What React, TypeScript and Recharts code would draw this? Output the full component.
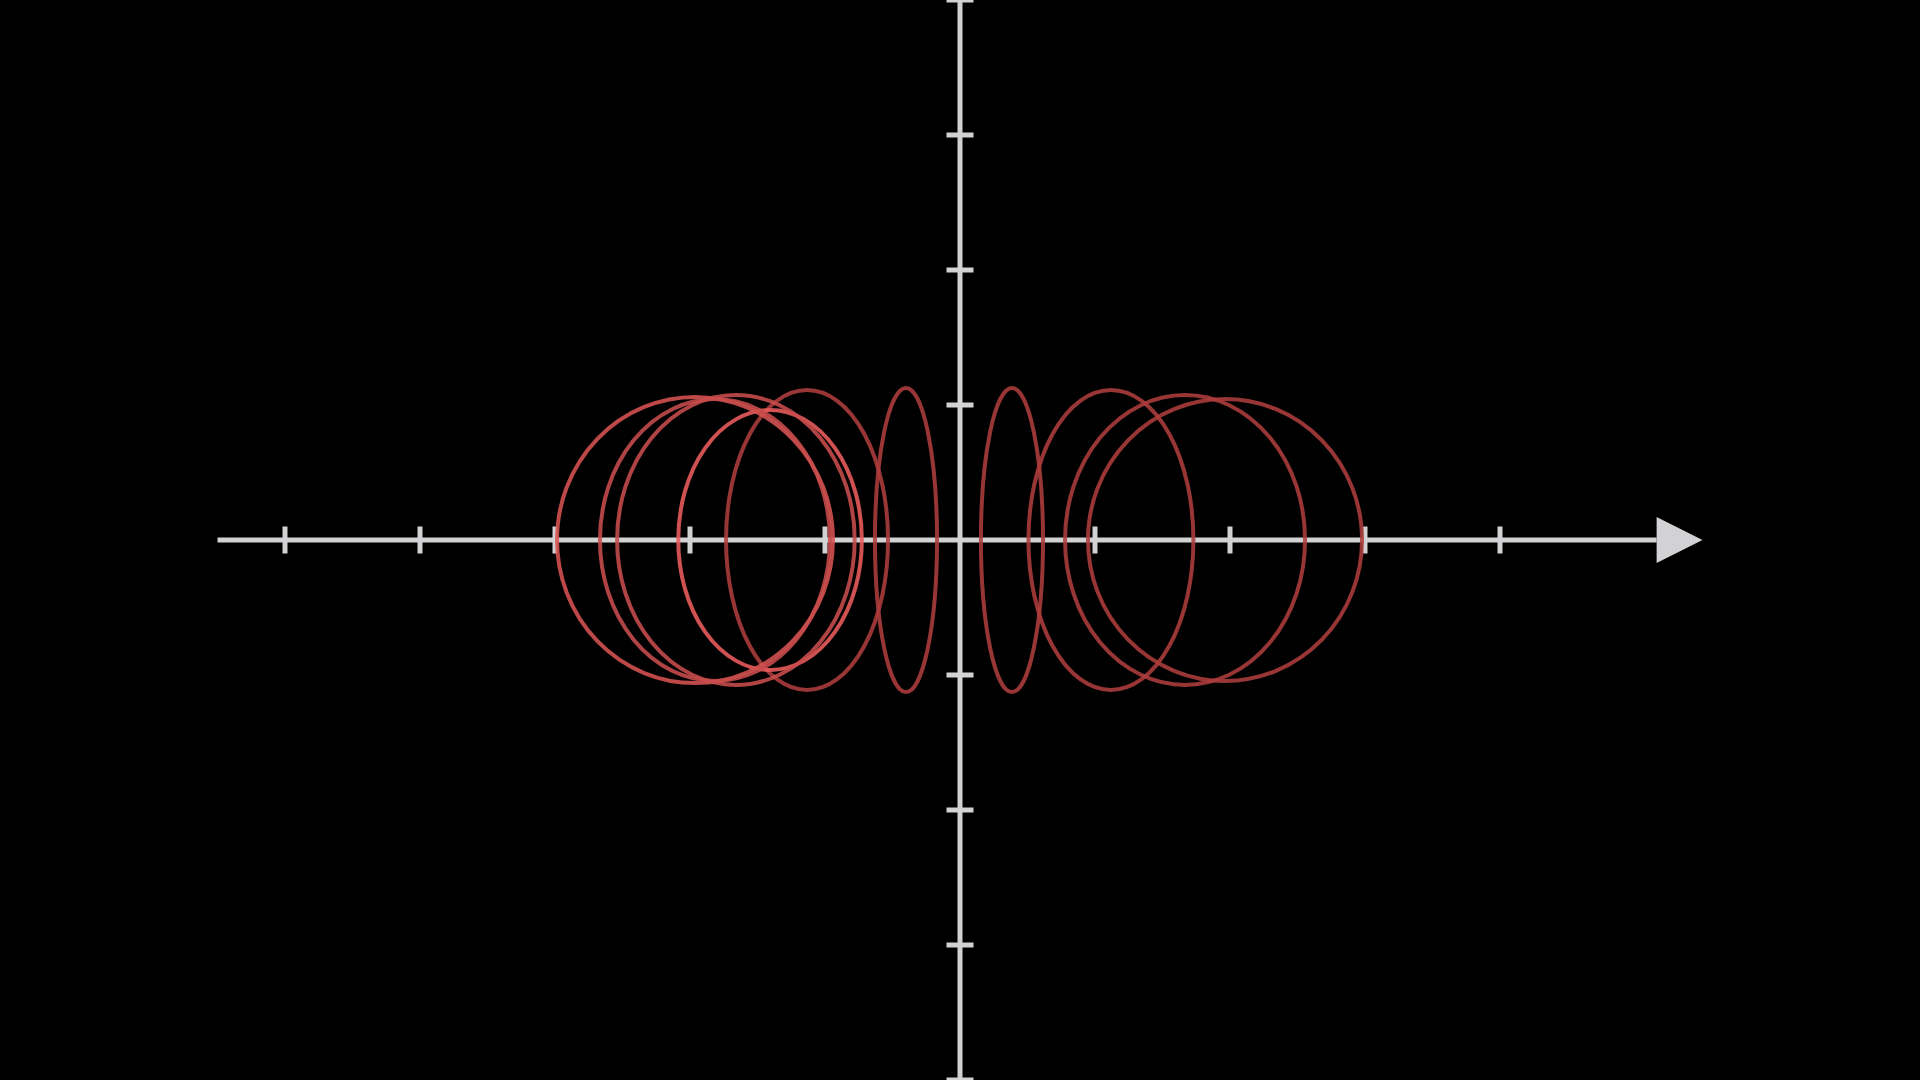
import React from 'react';
import {
  ScatterChart,
  Scatter,
  XAxis,
  YAxis,
  ReferenceLine,
  ReferenceDot,
} from 'recharts';

// plot units: one tick = 135px, origin in the middle of the frame
const WIDTH = 1920;
const HEIGHT = 1080;
const UNIT = 135;
const X_HALF = WIDTH / 2 / UNIT;
const Y_HALF = HEIGHT / 2 / UNIT;

const X_TICKS = [-5, -4, -3, -2, -1, 1, 2, 3, 4];
const Y_TICKS = [-4, -3, -2, -1, 1, 2, 3, 4];
const AXIS_START = -5.5;
const ARROW_BASE = 5.16;
const ARROW_TIP = 5.5;

// rings seen edge-on-ish: centre on the x axis, half-width, half-height
const RING_X = [0.385, 1.118, 1.667, 1.963, -0.4, -1.133, -1.407, -1.963, -1.815, -1.66];
const RING_RX = [0.23, 0.611, 0.889, 1.015, 0.23, 0.6, 0.68, 1.022, 0.852, 0.88];
const RING_RY = [1.126, 1.111, 1.074, 1.044, 1.126, 1.111, 0.963, 1.06, 1.044, 1.074];

const rings = RING_X.map((x, i) => ({ x, y: 0, rx: RING_RX[i], ry: RING_RY[i], idx: i }));

const RING_COLORS = ['#ad3c3c', '#ad3c3c', '#ad3c3c', '#ad3c3c', '#ad3c3c', '#ad3c3c', '#ec5c5c', '#d65252', '#c84c4c', '#c84c4c'];
const AXIS_COLOR = '#d2d2d4';

const renderRing = (props: any) => {
  const { cx, cy, payload } = props;
  return (
    <ellipse
      cx={cx}
      cy={cy}
      rx={payload.rx * UNIT}
      ry={payload.ry * UNIT}
      fill="none"
      stroke={RING_COLORS[payload.idx]}
      strokeWidth={4}
      strokeOpacity={0.88}
    />
  );
};

const renderArrow = (props: any) => {
  const { cx, cy } = props;
  const back = (ARROW_TIP - ARROW_BASE) * UNIT;
  return (
    <polygon
      points={`${cx - back / 2},${cy - 23} ${cx + back / 2},${cy} ${cx - back / 2},${cy + 23}`}
      fill={AXIS_COLOR}
    />
  );
};

export default function App() {
  return (
    <div style={{ position: 'absolute', left: 0, top: 0, width: WIDTH, height: HEIGHT, background: '#000' }}>
      <ScatterChart width={WIDTH} height={HEIGHT} margin={{ top: 0, right: 0, bottom: 0, left: 0 }}>
        <XAxis type="number" dataKey="x" domain={[-X_HALF, X_HALF]} hide allowDataOverflow />
        <YAxis type="number" dataKey="y" domain={[-Y_HALF, Y_HALF]} hide allowDataOverflow />

        {/* axes */}
        <ReferenceLine x={0} stroke={AXIS_COLOR} strokeWidth={5} ifOverflow="visible" />
        <ReferenceLine
          segment={[{ x: AXIS_START, y: 0 }, { x: ARROW_BASE, y: 0 }]}
          stroke={AXIS_COLOR}
          strokeWidth={5}
          ifOverflow="visible"
        />
        {X_TICKS.map(t => (
          <ReferenceLine
            key={`xt-${t}`}
            segment={[{ x: t, y: -0.1 }, { x: t, y: 0.1 }]}
            stroke={AXIS_COLOR}
            strokeWidth={5}
            ifOverflow="visible"
          />
        ))}
        {Y_TICKS.map(t => (
          <ReferenceLine
            key={`yt-${t}`}
            segment={[{ x: -0.1, y: t }, { x: 0.1, y: t }]}
            stroke={AXIS_COLOR}
            strokeWidth={5}
            ifOverflow="visible"
          />
        ))}
        <ReferenceDot x={(ARROW_BASE + ARROW_TIP) / 2} y={0} shape={renderArrow} ifOverflow="visible" />

        <Scatter data={rings} shape={renderRing} isAnimationActive={false} />
      </ScatterChart>
    </div>
  );
}
